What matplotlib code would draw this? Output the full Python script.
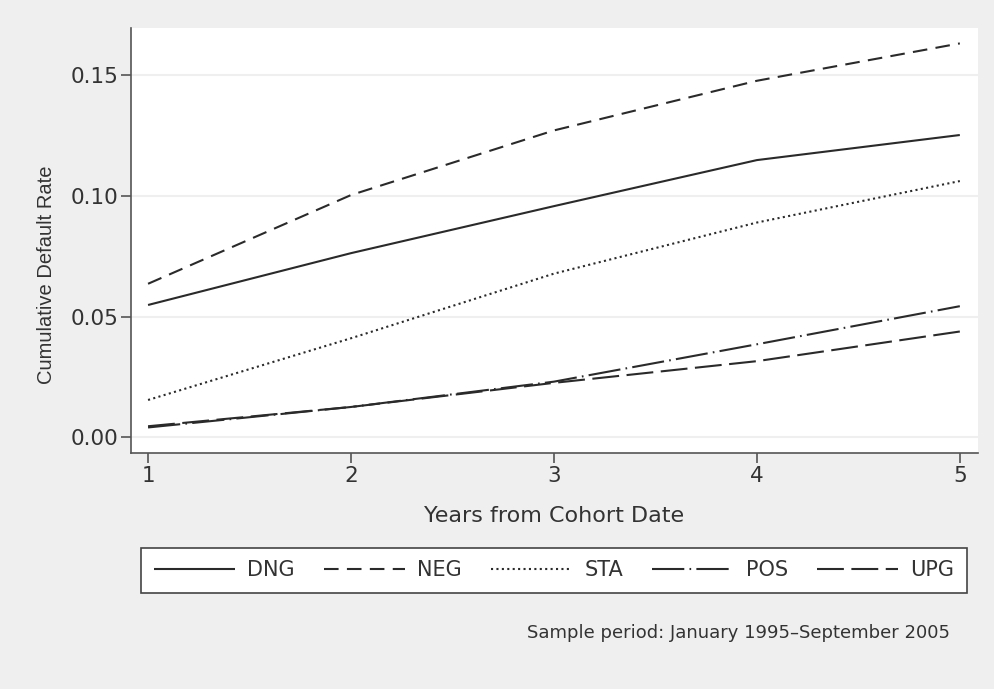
import matplotlib
matplotlib.use("Agg")
import matplotlib.pyplot as plt
from matplotlib.lines import Line2D

plt.rcParams['font.family'] = ['DejaVu Sans']

years = [1, 2, 3, 4, 5]
dng = [0.0548, 0.0763, 0.0958, 0.1149, 0.1253]
neg = [0.0636, 0.1004, 0.1272, 0.1478, 0.1633]
sta = [0.0154, 0.0410, 0.0678, 0.0890, 0.1062]
pos = [0.0040, 0.0125, 0.0230, 0.0385, 0.0543]
upg = [0.0045, 0.0125, 0.0225, 0.0315, 0.0438]
series_names = ["DNG", "NEG", "STA", "POS", "UPG"]
yticks = [0.00, 0.05, 0.10, 0.15]
ytick_labels = ["0.00", "0.05", "0.10", "0.15"]

bg = "#efefef"
lc = "#2a2a2a"
styles = {
    "DNG": (0, ()),
    "NEG": (0, (7, 4)),
    "STA": (0, (1, 1.6)),
    "POS": (0, (15.5, 2.5, 0.8, 2.5)),
    "UPG": (0, (12.9, 3.6)),
}

fig = plt.figure(figsize=(9.94, 6.89), dpi=100, facecolor=bg)
ax = fig.add_axes([0.1318, 0.3425, 0.8522, 0.6169])
ax.set_facecolor("white")

for name, vals in zip(series_names, [dng, neg, sta, pos, upg]):
    ax.plot(years, vals, color=lc, lw=1.5, linestyle=styles[name], label=name)

ax.set_xlim(0.916, 5.09)
ax.set_ylim(-0.0066, 0.1697)
ax.set_xticks(years)
ax.set_yticks(yticks)
ax.set_yticklabels(ytick_labels)
ax.grid(axis='y', color="#efefef", lw=1.5)
ax.set_axisbelow(True)
for s in ["top", "right"]:
    ax.spines[s].set_visible(False)
for s in ["left", "bottom"]:
    ax.spines[s].set_color("#555555")
    ax.spines[s].set_linewidth(1.2)
ax.tick_params(axis='both', colors="#555555", labelcolor="#333333", labelsize=15.5,
               length=7, width=1.2, pad=2)
ax.set_xlabel("Years from Cohort Date", fontsize=16, color="#333333", labelpad=15)
ax.set_ylabel("Cumulative Default Rate", fontsize=14.5, color="#333333",
              family=['Liberation Sans'])
ax.yaxis.set_label_coords(-0.089, 0.419)

handles = [Line2D([], [], color=lc, lw=1.5, linestyle=styles[n]) for n in series_names]
leg = fig.legend(handles, series_names, loc="lower left",
                 bbox_to_anchor=(141/994, (689-593)/689, (967-141)/994, 45/689),
                 mode="expand", ncol=5, fontsize=15, frameon=True, fancybox=False,
                 framealpha=1, handlelength=3.9, handletextpad=0.6, borderpad=0.6,
                 borderaxespad=0, labelcolor="#333333")
leg.get_frame().set_edgecolor("#444444")
leg.get_frame().set_linewidth(1.2)
leg.get_frame().set_facecolor("white")

fig.text(950/994, (689-633)/689, "Sample period: January 1995\u2013September 2005",
         ha="right", va="center", fontsize=13, color="#333333")

fig.savefig("out.png", dpi=100, facecolor=bg)
